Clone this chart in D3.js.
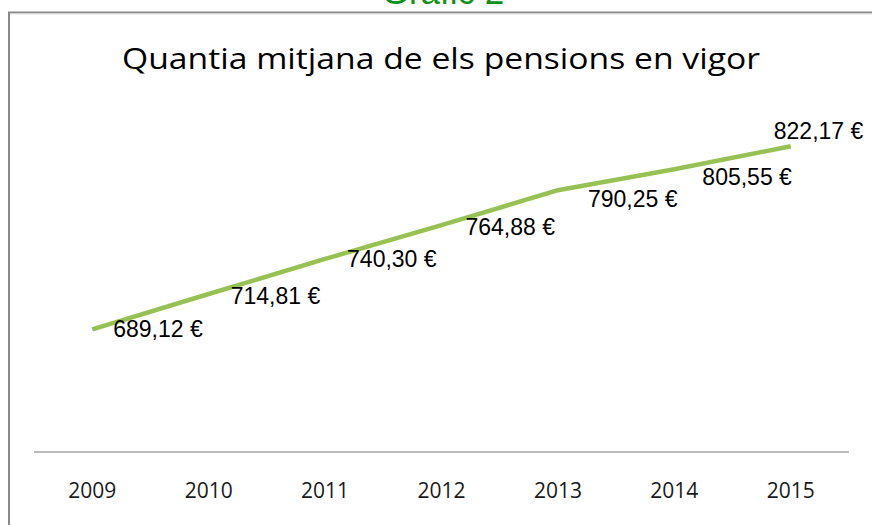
<!DOCTYPE html>
<html>
<head>
<meta charset="utf-8">
<script src="https://cdn.jsdelivr.net/npm/d3@7/dist/d3.min.js"></script>
<style>
html,body{margin:0;padding:0;background:#fff;}
svg{display:block;}
</style>
</head>
<body>
<svg id="chart" width="872" height="525"></svg>
<script>
const years = ["2009","2010","2011","2012","2013","2014","2015"];
const values = [689.12, 714.81, 740.30, 764.88, 790.25, 805.55, 822.17];
const valueLabels = ["689,12 €","714,81 €","740,30 €","764,88 €","790,25 €","805,55 €","822,17 €"];
const titleText = "Quantia mitjana de els pensions en vigor";
const headerText = "Gràfic 2";
// label placement relative to each point (style, not data)
const labelOffsets = [[21,8],[22,9.5],[22,8],[24,9.5],[30,17],[28,15.5],[-17,-7.5]];

const svg = d3.select("#chart");
const W = 872, H = 525;
const plot = {left: 34, right: 849, top: 108, bottom: 452};

// frame (cropped: top + left edges only)
svg.append("line").attr("x1",8).attr("x2",W).attr("y1",12.5).attr("y2",12.5)
  .attr("stroke","#888").attr("stroke-width",2);
svg.append("line").attr("x1",8).attr("x2",W).attr("y1",14).attr("y2",14)
  .attr("stroke","#e2e2e2").attr("stroke-width",1);
svg.append("line").attr("x1",9).attr("x2",9).attr("y1",12).attr("y2",H)
  .attr("stroke","#888").attr("stroke-width",2);

// cropped green header
svg.append("text").attr("x",443).attr("y",4)
  .attr("text-anchor","middle")
  .attr("font-family","'Liberation Sans', Arial, sans-serif")
  .attr("font-size",35)
  .attr("fill","#13901a")
  .text(headerText);

// title
svg.append("text").attr("x",441).attr("y",69)
  .attr("text-anchor","middle")
  .attr("font-family","'Open Sans', sans-serif")
  .attr("font-size",29)
  .attr("fill","#000")
  .attr("textLength",638).attr("lengthAdjust","spacingAndGlyphs")
  .text(titleText);

const x = d3.scaleBand().domain(years).range([plot.left, plot.right]).padding(0);
const y = d3.scaleLinear().domain([600, 850]).range([plot.bottom, plot.top]);

// x axis
const xAxis = d3.axisBottom(x).tickSize(0).tickPadding(0);
const gx = svg.append("g").attr("transform",`translate(0,${plot.bottom})`).call(xAxis);
gx.select(".domain").attr("stroke","#a6a6a6").attr("stroke-width",1.3).attr("d",`M${plot.left},0H${plot.right}`);
gx.selectAll(".tick text")
  .attr("font-family","'Open Sans', sans-serif")
  .attr("font-size",21)
  .attr("fill","#1a1a1a")
  .attr("dy",null)
  .attr("y",46);

// line
const cx = d => x(d) + x.bandwidth()/2;
const line = d3.line().x((d,i)=>cx(years[i])).y(d=>y(d));
svg.append("path").datum(values)
  .attr("d",line)
  .attr("fill","none")
  .attr("stroke","#97c253")
  .attr("stroke-width",4.5)
  .attr("stroke-linejoin","round");

// data labels
svg.append("g").selectAll("text").data(values).join("text")
  .attr("x",(d,i)=>cx(years[i]) + labelOffsets[i][0])
  .attr("y",(d,i)=>y(d) + labelOffsets[i][1])
  .attr("font-family","'Liberation Sans', Arial, sans-serif")
  .attr("font-size",23)
  .attr("fill","#000")
  .text((d,i)=>valueLabels[i]);
</script>
</body>
</html>
